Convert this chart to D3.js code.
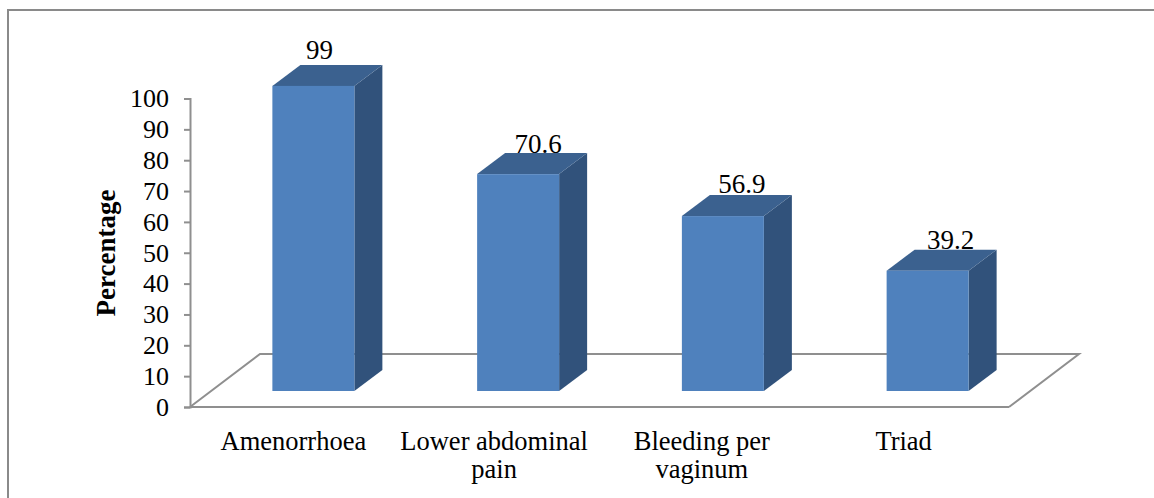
<!DOCTYPE html>
<html>
<head>
<meta charset="utf-8">
<script src="https://cdn.jsdelivr.net/npm/d3@7"></script>
<style>
  html, body { margin: 0; padding: 0; background: #fff; }
  svg { display: block; }
  text { font-family: "Liberation Serif", serif; fill: #000; }
</style>
</head>
<body>
<svg id="chart" width="1154" height="498"></svg>
<script>
const categories = ["Amenorrhoea", "Lower abdominal pain", "Bleeding per vaginum", "Triad"];
const values = [99, 70.6, 56.9, 39.2];
const barHeights = [98.9, 70.3, 56.7, 39];
const yTicks = [0, 10, 20, 30, 40, 50, 60, 70, 80, 90, 100];
const labelLines = [["Amenorrhoea"], ["Lower abdominal", "pain"], ["Bleeding per", "vaginum"], ["Triad"]];

const svg = d3.select("#chart");

// chart frame, the picture is cropped on the right and at the bottom
svg.append("path")
  .attr("d", "M8,498V10H1154")
  .attr("fill", "none")
  .attr("stroke", "#8a8a8a")
  .attr("stroke-width", 2);

const x = d3.scaleBand().domain(categories).range([190, 1009]);
const y = d3.scaleLinear().domain([0, 100]).range([407, 98.5]);

// depth of the 3d floor and of the bars
const floorDx = 70, floorDy = 53;
const barDx = 28, barDy = 21, barW = 82;
const baseDx = 21, baseDy = 16;

// hand nudges for the labels
const valueDx = [6, 20, 19, 23];
const valueDy = [27, 21, 23, 22];
const catDx = [1, -3, 0, -3];

// floor
svg.append("path")
  .attr("d", `M${x.range()[0]},${y(0)}L${x.range()[0] + floorDx},${y(0) - floorDy}H${x.range()[1] + floorDx}L${x.range()[1]},${y(0)}`)
  .attr("fill", "none")
  .attr("stroke", "#8f8f8f")
  .attr("stroke-width", 2);

// y axis
const yAxis = d3.axisLeft(y).tickValues(yTicks).tickSize(6).tickPadding(15);
const gy = svg.append("g").attr("transform", "translate(190,0)").call(yAxis);
gy.selectAll("path, line").attr("stroke", "#8f8f8f").attr("stroke-width", 2);
gy.selectAll("text").attr("font-size", 26).attr("font-family", "Liberation Serif").attr("fill", "#000");

// x axis line
svg.append("line")
  .attr("x1", 190).attr("x2", 1009)
  .attr("y1", y(0)).attr("y2", y(0))
  .attr("stroke", "#8f8f8f")
  .attr("stroke-width", 2);

// value labels go under the bars, the bar tops cut into them a little
svg.selectAll(".value")
  .data(categories)
  .enter()
  .append("text")
  .attr("class", "value")
  .attr("x", (d, i) => barLeft(d) + barW / 2 + valueDx[i])
  .attr("y", (d, i) => barTop(d, i) - valueDy[i])
  .attr("text-anchor", "middle")
  .attr("font-size", 27)
  .text((d, i) => values[i]);

// bars
const bars = svg.selectAll(".bar")
  .data(categories)
  .enter()
  .append("g")
  .attr("class", "bar");

function barLeft(d) { return x(d) + (x.bandwidth() - barW) / 2 + baseDx; }
function barTop(d, i) { return y(barHeights[i]) - baseDy; }
const barBottom = y(0) - baseDy;

bars.append("path") // side
  .attr("d", (d, i) => {
    const r = barLeft(d) + barW, t = barTop(d, i);
    return `M${r},${t}L${r + barDx},${t - barDy}V${barBottom - barDy}L${r},${barBottom}Z`;
  })
  .attr("fill", "#31527b");

bars.append("path") // top
  .attr("d", (d, i) => {
    const l = barLeft(d), t = barTop(d, i);
    return `M${l},${t}L${l + barDx},${t - barDy}H${l + barW + barDx}L${l + barW},${t}Z`;
  })
  .attr("fill", "#3b618f");

bars.append("rect") // front
  .attr("x", barLeft)
  .attr("y", barTop)
  .attr("width", barW)
  .attr("height", (d, i) => barBottom - barTop(d, i))
  .attr("fill", "#4f81bd");

// category labels
svg.selectAll(".cat")
  .data(categories)
  .enter()
  .append("text")
  .attr("class", "cat")
  .attr("text-anchor", "middle")
  .attr("font-size", 26.5)
  .each(function (d, i) {
    d3.select(this).selectAll("tspan")
      .data(labelLines[i])
      .enter()
      .append("tspan")
      .attr("x", x(d) + x.bandwidth() / 2 + catDx[i])
      .attr("y", (l, j) => 450 + j * 28)
      .text(l => l);
  });

// y axis title
svg.append("text")
  .attr("transform", "translate(115,253) rotate(-90)")
  .attr("text-anchor", "middle")
  .attr("font-size", 27)
  .attr("font-weight", "bold")
  .text("Percentage");
</script>
</body>
</html>
